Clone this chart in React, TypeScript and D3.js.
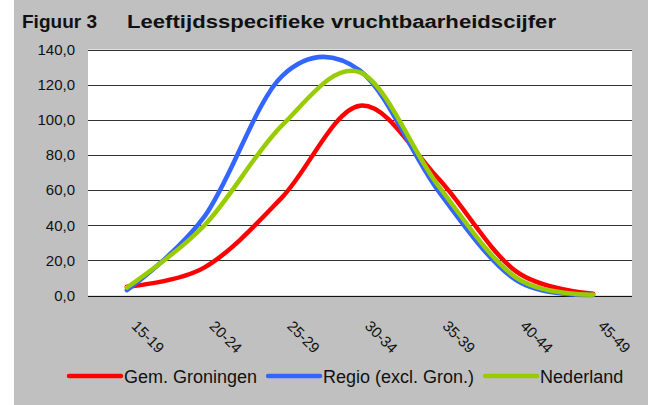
import React, { useEffect, useRef } from "react";
import * as d3 from "d3";

// leeftijdsspecifieke vruchtbaarheid per 1000 vrouwen
const ageGroups = ["15-19", "20-24", "25-29", "30-34", "35-39", "40-44", "45-49"];
const groningen = [5.0, 16.0, 56.0, 108.0, 67.0, 14.0, 1.0];
const regio = [3.0, 45.0, 125.0, 128.0, 60.0, 9.0, 0.3];
const nederland = [4.5, 40.0, 97.0, 127.0, 63.0, 10.5, 0.5];
const yTicks = [0, 20, 40, 60, 80, 100, 120, 140];

const seriesNames = ["Gem. Groningen", "Regio (excl. Gron.)", "Nederland"];
const seriesColors = ["#ff0000", "#3366ff", "#99cc00"];

const W = 658;
const H = 405;
const FONT = "Arial, 'Liberation Sans', sans-serif";

export default function App() {
  const ref = useRef<SVGSVGElement>(null);

  useEffect(() => {
    const svg = d3.select(ref.current);
    svg.selectAll("*").remove();

    const nl = d3.formatLocale({ decimal: ",", thousands: ".", grouping: [3], currency: ["€", ""] });
    const fmt = nl.format(".1f");

    const left = 88, right = 632, top = 49.5, bottom = 295.5;

    const x = d3.scaleBand<string>().domain(ageGroups).range([left, right]);
    const cx = (d: string) => (x(d) as number) + x.bandwidth() / 2;
    const y = d3.scaleLinear().domain([0, 140]).range([bottom, top]);

    // achtergrond
    svg.append("rect").attr("x", 14).attr("y", 0).attr("width", 634).attr("height", H).attr("fill", "#c0c0c0");
    svg.append("rect").attr("x", left).attr("y", top).attr("width", right - left).attr("height", bottom - top).attr("fill", "#fff");

    // titel
    const title = svg.append("text").attr("x", 22).attr("y", 28)
      .attr("font-family", FONT).attr("font-weight", "bold").attr("font-size", 18)
      .attr("fill", "#111");
    title.append("tspan").attr("textLength", 75).attr("lengthAdjust", "spacingAndGlyphs").text("Figuur 3");
    title.append("tspan").attr("x", 127).attr("textLength", 429).attr("lengthAdjust", "spacingAndGlyphs")
      .text("Leeftijdsspecifieke vruchtbaarheidscijfer");

    // rasterlijnen
    svg.append("g").selectAll("line").data(yTicks.filter(d => d > 0)).enter().append("line")
      .attr("x1", left).attr("x2", right)
      .attr("y1", d => Math.round(y(d)) + 0.5).attr("y2", d => Math.round(y(d)) + 0.5)
      .attr("stroke", "#333").attr("stroke-width", 1);

    svg.append("line").attr("x1", left).attr("x2", right)
      .attr("y1", Math.round(y(0)) + 0.5).attr("y2", Math.round(y(0)) + 0.5)
      .attr("stroke", "#111").attr("stroke-width", 1.2);

    svg.append("g").selectAll("text").data(yTicks).enter().append("text")
      .attr("x", 75).attr("y", d => y(d)).attr("dy", "0.36em")
      .attr("text-anchor", "end").attr("font-family", FONT).attr("font-size", 15).attr("fill", "#111")
      .text(d => fmt(d));

    svg.append("g").selectAll("text").data(ageGroups).enter().append("text")
      .attr("transform", d => `translate(${cx(d) + 4},327) rotate(45)`)
      .attr("font-family", FONT).attr("font-size", 15).attr("fill", "#111")
      .text(d => d);

    // lijnen
    const line = d3.line<number>()
      .x((d, i) => cx(ageGroups[i]))
      .y(d => y(d))
      .curve(d3.curveCardinal.tension(0));

    [groningen, regio, nederland].forEach((vals, i) => {
      svg.append("path").attr("d", line(vals) as string)
        .attr("fill", "none").attr("stroke", seriesColors[i]).attr("stroke-width", 4.5)
        .attr("stroke-linecap", "round").attr("stroke-linejoin", "round");
    });

    // legenda
    const ctx = document.createElement("canvas").getContext("2d") as CanvasRenderingContext2D;
    ctx.font = `18px ${FONT}`;
    let lx = 69;
    seriesNames.forEach((name, i) => {
      svg.append("line").attr("x1", lx).attr("x2", lx + 52).attr("y1", 376).attr("y2", 376)
        .attr("stroke", seriesColors[i]).attr("stroke-width", 4.5).attr("stroke-linecap", "round");
      svg.append("text").attr("x", lx + 55).attr("y", 383)
        .attr("font-family", FONT).attr("font-size", 18).attr("fill", "#111").text(name);
      lx += 55 + ctx.measureText(name).width + 11;
    });
  }, []);

  return (
    <svg ref={ref} width={W} height={H} style={{ position: "absolute", left: 0, top: 0, background: "#fff" }} />
  );
}
